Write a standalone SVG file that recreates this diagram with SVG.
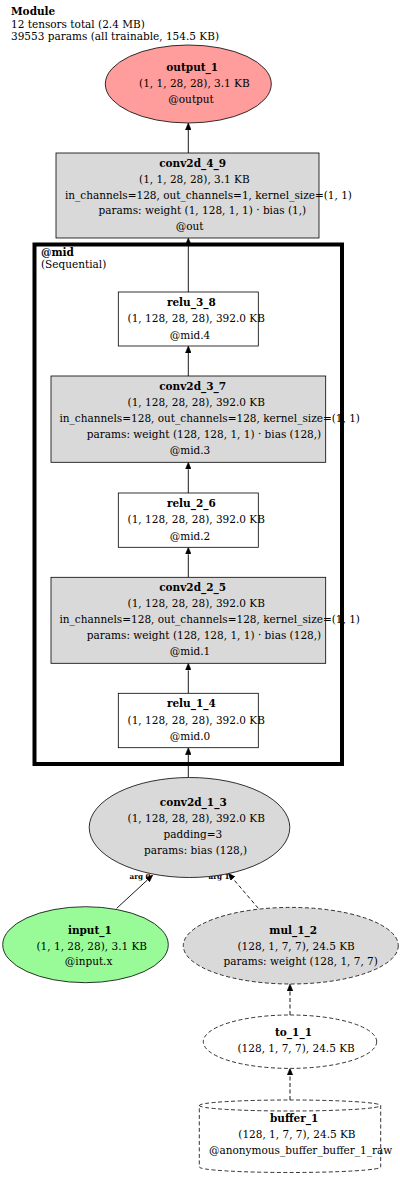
<svg xmlns="http://www.w3.org/2000/svg" width="400" height="1178" viewBox="0 0 400 1178">
<style>
text{font-family:"DejaVu Serif","Liberation Serif",serif;font-size:10.5px;fill:#000}
.b{font-weight:bold}
.lbl{font-size:7.2px;font-weight:bold}
.n{stroke:#000;stroke-width:0.8}
.g{fill:#d9d9d9}
.w{fill:#fff}
.d{stroke-dasharray:4,2.5}
.e{stroke:#000;stroke-width:0.9;fill:none}
</style>
<defs>
<marker id="ah" viewBox="0 0 7 6" markerWidth="7" markerHeight="6" refX="0" refY="3" orient="auto" markerUnits="userSpaceOnUse">
<path d="M0,0.2 L7,3 L0,5.8 Z" fill="#000" stroke="#000" stroke-width="0.6"/>
</marker>
</defs>
<rect x="0" y="0" width="400" height="1178" fill="#fff"/>
<g id="header">
<text x="11" y="15" class="b">Module</text>
<text x="11" y="27.5">12 tensors total (2.4 MB)</text>
<text x="11" y="39.5">39553 params (all trainable, 154.5 KB)</text>
</g>
<g id="cluster_mid">
<rect x="34.5" y="244.5" width="307.5" height="519.5" fill="#fff" stroke="#000" stroke-width="4"/>
<text x="41" y="256" class="b">@mid</text>
<text x="41" y="267.5">(Sequential)</text>
</g>
<g id="edges">
<path class="e" d="M188.3,153 V130" marker-end="url(#ah)"/>
<path class="e" d="M188.3,292 V245" marker-end="url(#ah)"/>
<path class="e" d="M188.3,376 V353" marker-end="url(#ah)"/>
<path class="e" d="M188.3,493 V469.3" marker-end="url(#ah)"/>
<path class="e" d="M188.3,577.3 V554.3" marker-end="url(#ah)"/>
<path class="e" d="M188.3,693.3 V670.3" marker-end="url(#ah)"/>
<path class="e" d="M188.3,777 V754.7" marker-end="url(#ah)"/>
<path class="e" d="M116.7,908.3 L147.6,879.8" marker-end="url(#ah)"/>
<path class="e d" d="M258.3,908.3 L232.9,878.6" marker-end="url(#ah)"/>
<path class="e d" d="M290,1015 V991" marker-end="url(#ah)"/>
<path class="e d" d="M290,1100 V1075.3" marker-end="url(#ah)"/>
<text x="129.5" y="879" class="lbl">arg 0</text>
<text x="208.5" y="879" class="lbl">arg 1</text>
</g>
<g id="output_1">
<ellipse cx="188.3" cy="84" rx="83" ry="39" fill="#ff9c9c" class="n"/>
<text x="166.3" y="70.5" class="b">output_1</text>
<text x="139.1" y="87">(1, 1, 28, 28), 3.1 KB</text>
<text x="168.3" y="103">@output</text>
</g>
<g id="conv2d_4_9">
<rect x="56" y="153" width="263" height="85" class="n g"/>
<text x="159.2" y="166.5" class="b">conv2d_4_9</text>
<text x="139.1" y="182.5">(1, 1, 28, 28), 3.1 KB</text>
<text x="64.9" y="198.5">in_channels=128, out_channels=1, kernel_size=(1, 1)</text>
<text x="98.5" y="214.3">params: weight (1, 128, 1, 1) · bias (1,)</text>
<text x="175.7" y="230">@out</text>
</g>
<g id="relu_3_8">
<rect x="118.3" y="292" width="140" height="54" class="n w"/>
<text x="166.9" y="305.5" class="b">relu_3_8</text>
<text x="127.6" y="322">(1, 128, 28, 28), 392.0 KB</text>
<text x="169.7" y="338.5">@mid.4</text>
</g>
<g id="conv2d_3_7">
<rect x="51" y="376" width="274.7" height="86.3" class="n g"/>
<text x="159.2" y="389.5" class="b">conv2d_3_7</text>
<text x="127.6" y="405.5">(1, 128, 28, 28), 392.0 KB</text>
<text x="59.5" y="421.5">in_channels=128, out_channels=128, kernel_size=(1, 1)</text>
<text x="86.8" y="437.5">params: weight (128, 128, 1, 1) · bias (128,)</text>
<text x="169.7" y="453.5">@mid.3</text>
</g>
<g id="relu_2_6">
<rect x="118.3" y="493" width="140" height="54.3" class="n w"/>
<text x="166.9" y="506.5" class="b">relu_2_6</text>
<text x="127.6" y="523">(1, 128, 28, 28), 392.0 KB</text>
<text x="169.7" y="539.5">@mid.2</text>
</g>
<g id="conv2d_2_5">
<rect x="51" y="577.3" width="274.7" height="86" class="n g"/>
<text x="159.2" y="591" class="b">conv2d_2_5</text>
<text x="127.6" y="607">(1, 128, 28, 28), 392.0 KB</text>
<text x="59.5" y="623">in_channels=128, out_channels=128, kernel_size=(1, 1)</text>
<text x="86.8" y="639">params: weight (128, 128, 1, 1) · bias (128,)</text>
<text x="169.7" y="655">@mid.1</text>
</g>
<g id="relu_1_4">
<rect x="118.3" y="693.3" width="140" height="54.4" class="n w"/>
<text x="166.9" y="707" class="b">relu_1_4</text>
<text x="127.6" y="723.5">(1, 128, 28, 28), 392.0 KB</text>
<text x="169.7" y="740">@mid.0</text>
</g>
<g id="conv2d_1_3">
<ellipse cx="189.5" cy="827.5" rx="100.3" ry="50" class="n g"/>
<text x="159.8" y="806" class="b">conv2d_1_3</text>
<text x="127.6" y="822">(1, 128, 28, 28), 392.0 KB</text>
<text x="163.5" y="838">padding=3</text>
<text x="144.1" y="854">params: bias (128,)</text>
</g>
<g id="input_1">
<ellipse cx="85.5" cy="944.7" rx="82.8" ry="38" fill="#98fb98" class="n"/>
<text x="67.9" y="933.5" class="b">input_1</text>
<text x="36.5" y="949.5">(1, 1, 28, 28), 3.1 KB</text>
<text x="64.8" y="965">@input.x</text>
</g>
<g id="mul_1_2">
<ellipse cx="290.8" cy="945.7" rx="107.5" ry="38.3" class="n g d"/>
<text x="269.3" y="933.5" class="b">mul_1_2</text>
<text x="237.5" y="949.5">(128, 1, 7, 7), 24.5 KB</text>
<text x="223.5" y="965">params: weight (128, 1, 7, 7)</text>
</g>
<g id="to_1_1">
<ellipse cx="290" cy="1041.7" rx="86.7" ry="26.7" class="n w d"/>
<text x="275" y="1036" class="b">to_1_1</text>
<text x="237.5" y="1052">(128, 1, 7, 7), 24.5 KB</text>
</g>
<g id="buffer_1">
<path d="M199.3,1105.5 A90.7,5.5 0 0 1 380.7,1105.5 L380.7,1167 A90.7,5.5 0 0 1 199.3,1167 Z M199.3,1105.5 A90.7,5.5 0 0 0 380.7,1105.5" class="n w d"/>
<text x="270" y="1122" class="b">buffer_1</text>
<text x="238.3" y="1138">(128, 1, 7, 7), 24.5 KB</text>
<text x="209" y="1154">@anonymous_buffer_buffer_1_raw</text>
</g>
</svg>
